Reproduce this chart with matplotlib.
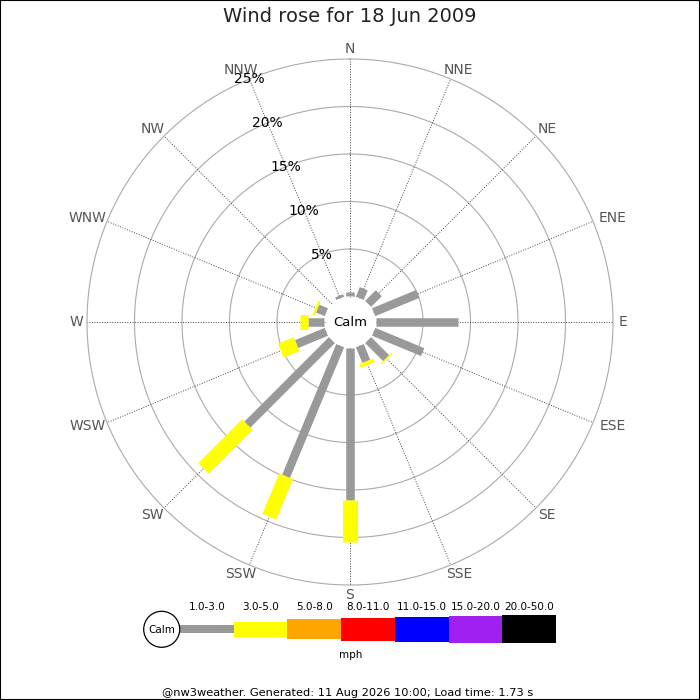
import numpy as np
import matplotlib
matplotlib.use("Agg")
import matplotlib.pyplot as plt
from matplotlib.patches import Circle, Rectangle

# ---- data ----
directions = ['N', 'NNE', 'NE', 'ENE', 'E', 'ESE', 'SE', 'SSE',
              'S', 'SSW', 'SW', 'WSW', 'W', 'WNW', 'NW', 'NNW']
# percentage of time per direction for each speed class (mph)
speed_1_3 = [0.5, 1.1, 1.6, 5.05, 8.65, 5.6, 2.7, 1.8,
             16.0, 14.9, 12.6, 3.4, 1.7, 1.0, 0.0, 0.3]
speed_3_5 = [0.0, 0.0, 0.0, 0.0, 0.0, 0.0, 0.15, 0.4,
             4.5, 4.6, 6.5, 1.8, 0.9, 0.25, 0.0, 0.0]
ring_values = [5, 10, 15, 20, 25]
speed_bins = ['1.0-3.0', '3.0-5.0', '5.0-8.0', '8.0-11.0',
              '11.0-15.0', '15.0-20.0', '20.0-50.0']
bin_colors = ['#999999', '#ffff00', '#ffa500', '#ff0000',
              '#0000ff', '#a020f0', '#000000']
title = 'Wind rose for 18 Jun 2009'
footer = '@nw3weather. Generated: 11 Aug 2026 10:00; Load time: 1.73 s'

# ---- figure ----
fig = plt.figure(figsize=(7, 7), dpi=100)
W = H = 700.0
cx, cy = 350.0, 322.0
R = 263.0          # pixel radius of outer ring
calm_px = 25.5     # pixel radius of calm circle
rmax = 25.0
px_per_unit = (R - calm_px) / rmax

ax = fig.add_axes([(cx - R) / W, (H - cy - R) / H, 2 * R / W, 2 * R / H],
                  projection='polar')
ax.set_theta_zero_location('N')
ax.set_theta_direction(-1)
ax.set_ylim(0, rmax)
ax.set_rorigin(-calm_px / px_per_unit)
ax.axis('off')

angles = np.deg2rad(np.arange(16) * 22.5)

# rings
th = np.linspace(0, 2 * np.pi, 721)
for rv in ring_values:
    ax.plot(th, np.full_like(th, rv), color='#aaaaaa', lw=0.8, zorder=1,
            clip_on=False)
# radial lines
for a in angles:
    ax.plot([a, a], [0, rmax], color='#444444', lw=0.7, ls=(0, (1, 1.6)),
            zorder=1, clip_on=False)

# bars
lw_gray = 8.5 * 0.72
lw_yel = 15 * 0.72
for a, g, y in zip(angles, speed_1_3, speed_3_5):
    if g > 0:
        ax.plot([a, a], [0, g], color=bin_colors[0], lw=lw_gray,
                solid_capstyle='butt', zorder=3)
    if y > 0:
        ax.plot([a, a], [g, g + y], color=bin_colors[1], lw=lw_yel,
                solid_capstyle='butt', zorder=4)

# ring labels along NNW
for rv in ring_values:
    ax.text(np.deg2rad(337.5), rv, f'{rv}%', ha='center', va='center',
            fontsize=10, color='black', zorder=6)

# direction labels
r_lab = (268 - calm_px) / px_per_unit
for a, d in zip(angles, directions):
    w_px = 11.0 * len(d)
    h_px = 10.0
    dx = w_px / 2 * np.sin(a) * 0.72
    dy = h_px / 2 * np.cos(a) * 0.72
    ax.annotate(d, xy=(a, r_lab), xytext=(dx, dy), textcoords='offset points',
                ha='center', va='center', fontsize=10, color='#555555',
                annotation_clip=False)

# calm circle
ax.add_patch(Circle((0.5, 0.5), calm_px / (2 * R), transform=ax.transAxes,
                    facecolor='white', edgecolor='none', zorder=5))
ax.text(0.5, 0.5, 'Calm', transform=ax.transAxes, ha='center', va='center',
        fontsize=9.5, zorder=6)

# ---- overlay for title, legend, footer (pixel coords) ----
ov = fig.add_axes([0, 0, 1, 1], zorder=-1)
ov.set_xlim(0, W)
ov.set_ylim(H, 0)
ov.axis('off')

ov.text(350, 17, title, ha='center', va='center', fontsize=14, color='#222222')

seg_x0 = 180.0
seg_w = 53.7
seg_heights = [8, 15, 20, 23, 25, 27, 28]
ly = 629.2
for i, (lab, col) in enumerate(zip(speed_bins, bin_colors)):
    x0 = seg_x0 + i * seg_w
    h = seg_heights[i]
    ov.add_patch(Rectangle((x0, ly - h / 2), seg_w, h, facecolor=col,
                           edgecolor='none'))
    ov.text(x0 + seg_w / 2, 607.5, lab, ha='center', va='center', fontsize=7.5)
ov.add_patch(Circle((161.7, 629.3), 18, facecolor='white', edgecolor='black',
                    lw=0.9, zorder=3))
ov.text(161.7, 629.8, 'Calm', ha='center', va='center', fontsize=7.5, zorder=4)
ov.text(351, 654.5, 'mph', ha='center', va='center', fontsize=7.5)
ov.text(348, 692.5, footer, ha='center', va='center', fontsize=8.2)

# border
fig.add_artist(Rectangle((0, 0), 1, 1, transform=fig.transFigure, fill=False,
                         edgecolor='black', lw=1.5))

fig.savefig('out.png', dpi=100)
